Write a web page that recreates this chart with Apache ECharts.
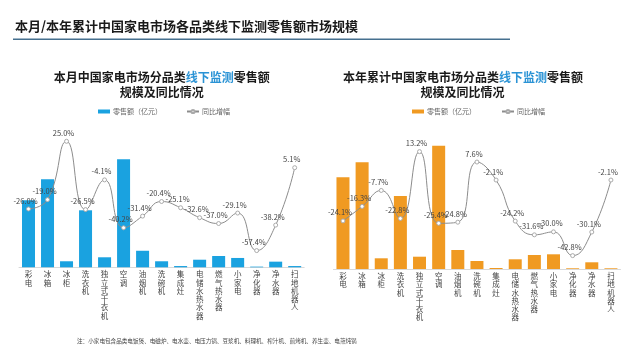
<!DOCTYPE html>
<html><head><meta charset="utf-8">
<script src="https://cdn.jsdelivr.net/npm/echarts@6/dist/echarts.min.js"></script>
<style>html,body{margin:0;padding:0;background:#fff}#c{width:640px;height:360px}</style>
</head><body><div id="c"></div>
<script>
const categories = ['彩电','冰箱','冰柜','洗衣机','独立式干衣机','空调','油烟机','洗碗机','集成灶','电储水热水器','燃气热水器','小家电','净化器','净水器','扫地机器人'];
const monthSales = [69, 90.5, 6.2, 58.6, 10.3, 111, 17, 6.2, 1.3, 7.8, 11.6, 9.6, 0.7, 5.8, 1.3];
const monthYoY = [-26.0, -19.0, 25.0, -26.5, -4.1, -40.2, -31.4, -20.4, -25.1, -32.6, -37.0, -29.1, -57.4, -38.2, 5.1];
const yearSales = [917, 1067, 107, 730, 123, 1233, 190, 80, 10, 97, 140, 147, 7, 67, 7];
const yearYoY = [-24.1, -16.3, -7.7, -22.8, 13.2, -25.4, -24.8, 7.6, -2.1, -24.2, -31.6, -30.0, -42.8, -30.1, -2.1];
const salesName = '零售额（亿元）';
const yoyName = '同比增幅';

const FONT = '"Noto Sans CJK SC", "Noto Sans", sans-serif';
const BLUE = '#1aa2e0', ORANGE = '#f09a22';

const chart = echarts.init(document.getElementById('c'), null, {renderer: 'canvas'});

function xAxis(grid) {
  return {
    type: 'category', gridIndex: grid, data: categories,
    axisLine: {lineStyle: {color: '#d9d9d9', width: 1}},
    axisTick: {show: false},
    axisLabel: {
      interval: 0, margin: 3, fontSize: 7.5, lineHeight: 8.3, color: '#444', fontFamily: FONT,
      verticalAlign: 'top',
      formatter: v => v.split('').join('\n')
    }
  };
}
function yAx(grid, min, max) {
  return {type: 'value', gridIndex: grid, min: min, max: max, show: false, splitLine: {show: false}};
}
function lineSeries(x, y, data) {
  return {
    name: yoyName, type: 'line', xAxisIndex: x, yAxisIndex: y, data: data,
    smooth: 0.5, symbol: 'circle', symbolSize: 4, showAllSymbol: true,
    lineStyle: {color: '#8c8c8c', width: 1},
    itemStyle: {color: '#fff', borderColor: '#aaa', borderWidth: 1},
    label: {show: true, position: 'top', distance: 2, offset: [-3, 0], fontSize: 7.5, color: '#444',
      fontFamily: FONT, formatter: p => p.value.toFixed(1) + '%'},
    z: 3
  };
}
function barSeries(x, y, data, color) {
  return {name: salesName, type: 'bar', xAxisIndex: x, yAxisIndex: y, data: data, barWidth: 13,
    itemStyle: {color: color}, z: 2};
}
function legend(left, color, gap) {
  return {
    left: left, top: 103, itemGap: gap, itemWidth: 12, itemHeight: 4,
    textStyle: {fontSize: 7, color: '#666', fontFamily: FONT, padding: [0, 0, 0, -2]},
    data: [
      {name: salesName, icon: 'rect', itemStyle: {color: color}},
      {name: yoyName, itemStyle: {color: '#fff', borderColor: '#aaa'}, lineStyle: {color: '#8c8c8c'}}
    ],
    selectedMode: false
  };
}

const option = {
  animation: false,
  textStyle: {fontFamily: FONT},
  grid: [
    {left: 19, width: 285.2, top: 121.4, height: 145.9},
    {left: 333.4, width: 287.1, top: 139, height: 130}
  ],
  xAxis: [xAxis(0), xAxis(1)],
  yAxis: [yAx(0, 0, 150), yAx(0, -70, 40), yAx(1, 0, 1300), yAx(1, -50, 20)],
  legend: [legend(93, BLUE, 24), legend(407, ORANGE, 25)],
  series: [
    barSeries(0, 0, monthSales, BLUE),
    lineSeries(0, 1, monthYoY),
    barSeries(1, 2, yearSales, ORANGE),
    lineSeries(1, 3, yearYoY)
  ],
  graphic: [
    {type: 'text', left: 15, top: 20, style: {text: '本月/本年累计中国家电市场各品类线下监测零售额市场规模',
      font: 'bold 13px ' + FONT, fill: '#1a1a1a'}},
    {type: 'rect', shape: {x: 13, y: 38.5, width: 497, height: 1.6}, style: {fill: '#46708f'}},
    {type: 'text', x: 161.7, y: 77, style: {
      text: '{a|本月中国家电市场分品类}{b|线下监测}{a|零售额}', textAlign: 'center', textVerticalAlign: 'middle',
      rich: {a: {font: 'bold 12px ' + FONT, fill: '#1a1a1a'}, b: {font: 'bold 12px ' + FONT, fill: '#2a93d5'}}}},
    {type: 'text', x: 161.7, y: 92, style: {text: '规模及同比情况', textAlign: 'center', textVerticalAlign: 'middle',
      font: 'bold 12px ' + FONT, fill: '#1a1a1a'}},
    {type: 'text', x: 463, y: 77, style: {
      text: '{a|本年累计中国家电市场分品类}{b|线下监测}{a|零售额}', textAlign: 'center', textVerticalAlign: 'middle',
      rich: {a: {font: 'bold 12px ' + FONT, fill: '#1a1a1a'}, b: {font: 'bold 12px ' + FONT, fill: '#2a93d5'}}}},
    {type: 'text', x: 462.5, y: 92, style: {text: '规模及同比情况', textAlign: 'center', textVerticalAlign: 'middle',
      font: 'bold 12px ' + FONT, fill: '#1a1a1a'}},
    {type: 'text', x: 77, y: 341, style: {text: '注：小家电包含品类电饭煲、电磁炉、电水壶、电压力锅、豆浆机、料理机、榨汁机、煎烤机、养生壶、电蒸炖锅',
      font: '5.6px ' + FONT, fill: '#444', textVerticalAlign: 'middle'}}
  ]
};
chart.setOption(option);
</script>
</body></html>
